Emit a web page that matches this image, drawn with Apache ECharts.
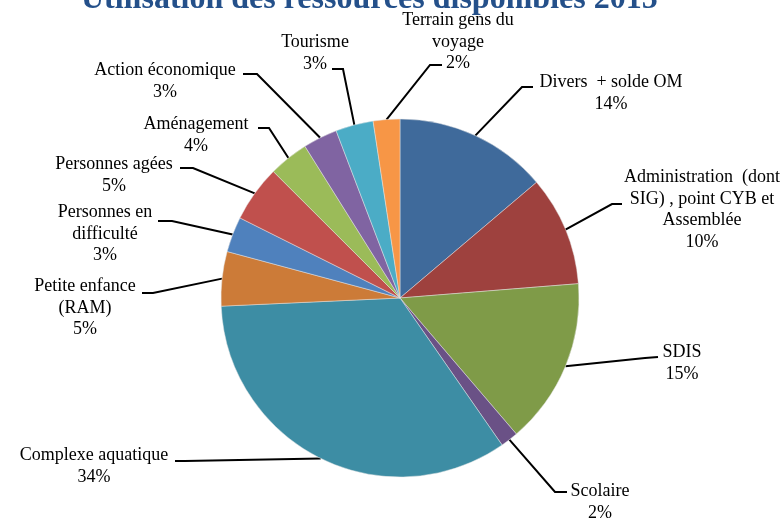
<!DOCTYPE html>
<html>
<head>
<meta charset="utf-8">
<script src="https://cdn.jsdelivr.net/npm/echarts@6/dist/echarts.min.js"></script>
<style>
html,body{margin:0;padding:0;background:#fff;}
#chart{width:784px;height:520px;}
</style>
</head>
<body>
<div id="chart"></div>
<script>
// ---- Data ----
const titleText = 'Utilisation des ressources disponibles 2015';
const categories = [
  'Divers  + solde OM',
  'Administration  (dont\nSIG) , point CYB et\nAssemblée',
  'SDIS',
  'Scolaire',
  'Complexe aquatique',
  'Petite enfance\n(RAM)',
  'Personnes en\ndifficulté',
  'Personnes agées',
  'Aménagement',
  'Action économique',
  'Tourisme',
  'Terrain gens du\nvoyage'
];
const values = [13.8, 9.9, 15.0, 1.6, 33.9, 4.9, 3.2, 5.1, 3.6, 3.1, 3.4, 2.4];
const colors = ['#3F6A9B', '#9E413E', '#7F9B48', '#6A5186', '#3D8DA4', '#CC7B38',
                '#4F81BD', '#C0504D', '#9BBB59', '#8064A2', '#4BACC6', '#F79646'];

// ---- Label layout (text anchor: center-x, top-y; then leader elbow and end) ----
const labelPlaces = [
  {x: 611, y: 72,  elbow: [522, 87],  end: [533, 87]},
  {x: 702, y: 167, elbow: [612, 204], end: [622, 204]},
  {x: 682, y: 342, elbow: [645, 358], end: [658, 357]},
  {x: 600, y: 481, elbow: [555, 492], end: [567, 492]},
  {x: 94,  y: 445, elbow: [185, 461], end: [175, 461]},
  {x: 85,  y: 276, elbow: [153, 293], end: [142, 293]},
  {x: 105, y: 202, elbow: [172, 221], end: [158, 221]},
  {x: 114, y: 154, elbow: [193, 168], end: [180, 168]},
  {x: 196, y: 114, elbow: [269, 128], end: [258, 128]},
  {x: 165, y: 60,  elbow: [257, 74],  end: [243, 74]},
  {x: 315, y: 32,  elbow: [343, 69],  end: [332, 69]},
  {x: 458, y: 10,  elbow: [430, 65],  end: [442, 65]}
];

const chart = echarts.init(document.getElementById('chart'), null, {renderer: 'canvas'});
const option = {
  backgroundColor: '#fff',
  animation: false,
  title: {
    text: titleText,
    left: 76,
    top: -21,
    textStyle: {
      fontFamily: 'Liberation Serif',
      fontWeight: 'bold',
      fontSize: 32,
      color: '#24508A'
    }
  },
  series: [{
    type: 'pie',
    center: [400, 298],
    radius: 179,
    startAngle: 90,
    clockwise: true,
    avoidLabelOverlap: false,
    data: categories.map((c, i) => ({
      name: c,
      value: values[i],
      itemStyle: {color: colors[i]}
    })),
    itemStyle: {borderColor: 'rgba(230,230,230,0.8)', borderWidth: 0.6},
    label: {
      show: true,
      position: 'outside',
      formatter: p => p.name + '\n' + Math.round(p.percent) + '%',
      fontFamily: 'Liberation Serif',
      fontSize: 18,
      lineHeight: 21.5,
      color: '#000',
      align: 'center'
    },
    labelLine: {
      show: true,
      length: 20,
      length2: 10,
      lineStyle: {color: '#000', width: 2}
    },
    labelLayout: function (params) {
      const lp = labelPlaces[params.dataIndex];
      const start = params.labelLinePoints ? params.labelLinePoints[0] : lp.elbow;
      return {
        x: lp.x,
        y: lp.y,
        align: 'center',
        verticalAlign: 'top',
        labelLinePoints: [start, lp.elbow, lp.end]
      };
    },
    emphasis: {disabled: true}
  }]
};
chart.setOption(option);
</script>
</body>
</html>
